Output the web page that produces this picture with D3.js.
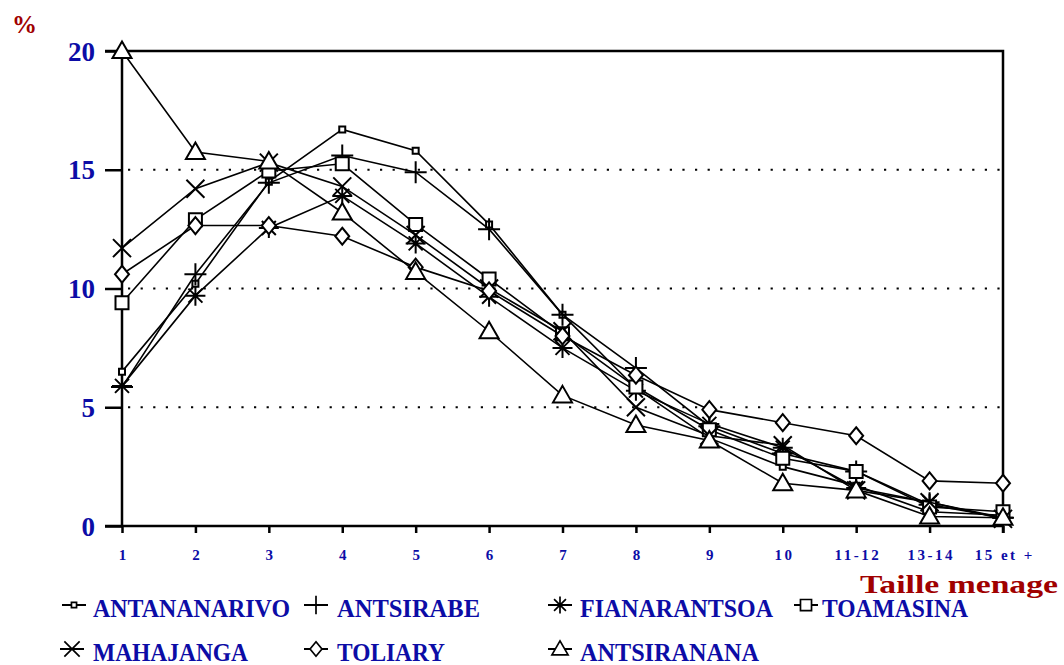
<!DOCTYPE html>
<html>
<head>
<meta charset="utf-8">
<script src="https://cdn.jsdelivr.net/npm/d3@7"></script>
<style>
  body { margin: 0; background: #fff; }
  svg { display: block; }
  text { font-family: "Liberation Serif", "DejaVu Serif", serif; font-weight: bold; }
</style>
</head>
<body>
<svg id="chart" width="1064" height="665"></svg>
<script>
// household size categories (x axis)
const categories = ["1", "2", "3", "4", "5", "6", "7", "8", "9", "10", "11-12", "13-14", "15 et +"];
const yTicks = [0, 5, 10, 15, 20];

// % of households per size, one array per town
const antananarivo = [6.5, 10.2, 14.5, 16.7, 15.8, 12.7, 8.9, 5.8, 3.7, 2.5, 1.7, 0.6, 0.45];
const antsirabe    = [5.85, 10.6, 14.45, 15.6, 14.9, 12.5, 8.9, 6.65, 4.2, 3.05, 2.3, 0.9, 0.35];
const fianarantsoa = [5.9, 9.7, 12.55, 13.9, 11.9, 9.65, 7.5, 5.7, 4.3, 3.3, 1.6, 1.0, 0.35];
const toamasina    = [9.4, 12.9, 14.95, 15.25, 12.7, 10.4, 8.1, 5.85, 4.05, 2.85, 2.3, 0.8, 0.6];
const mahajanga    = [11.7, 14.2, 15.3, 14.3, 12.25, 10.0, 8.2, 5.0, 3.8, 3.4, 1.5, 1.0, 0.3];
const toliary      = [10.6, 12.65, 12.65, 12.2, 10.9, 9.9, 8.0, 6.35, 4.9, 4.35, 3.8, 1.9, 1.8];
const antsiranana  = [20.0, 15.75, 15.35, 13.2, 10.7, 8.2, 5.5, 4.25, 3.6, 1.8, 1.5, 0.4, 0.35];

const seriesNames = ["ANTANANARIVO", "ANTSIRABE", "FIANARANTSOA", "TOAMASINA", "MAHAJANGA", "TOLIARY", "ANTSIRANANA"];
const seriesValues = [antananarivo, antsirabe, fianarantsoa, toamasina, mahajanga, toliary, antsiranana];
const seriesMarkers = ["smallsquare", "plus", "asterisk", "square", "cross", "diamond", "triangle"];

const blue = "#0c0ca6";
const red = "#a00000";

const svg = d3.select("#chart");

const x = d3.scalePoint().domain(categories).range([122, 1003]);
const y = d3.scaleLinear().domain([0, 20]).range([526, 51]);

// marker path drawn around 0,0
function markerPath(type) {
    const p = d3.path();
    if (type === "smallsquare") {
        p.rect(-3, -3, 6, 6);
    } else if (type === "square") {
        p.rect(-6.5, -6.5, 13, 13);
    } else if (type === "plus") {
        p.moveTo(-11, 0); p.lineTo(11, 0);
        p.moveTo(0, -11); p.lineTo(0, 11);
    } else if (type === "cross") {
        p.moveTo(-9, -9); p.lineTo(9, 9);
        p.moveTo(-9, 9); p.lineTo(9, -9);
    } else if (type === "asterisk") {
        p.moveTo(-10, 0); p.lineTo(10, 0);
        p.moveTo(0, -10); p.lineTo(0, 10);
        p.moveTo(-7, -7); p.lineTo(7, 7);
        p.moveTo(-7, 7); p.lineTo(7, -7);
    } else if (type === "diamond") {
        p.moveTo(0, -8.5); p.lineTo(7, 0); p.lineTo(0, 8.5); p.lineTo(-7, 0); p.closePath();
    } else if (type === "triangle") {
        p.moveTo(0, -9.5); p.lineTo(9.5, 7); p.lineTo(-9.5, 7); p.closePath();
    }
    return p.toString();
}

// dotted grid lines
svg.append("g")
    .selectAll("line")
    .data([5, 10, 15])
    .enter().append("line")
    .attr("x1", 128).attr("x2", 1000)
    .attr("y1", d => y(d)).attr("y2", d => y(d))
    .attr("stroke", "#000")
    .attr("stroke-width", 2.2)
    .attr("stroke-dasharray", "2.2,10.4");

// y axis
const yAxis = svg.append("g")
    .attr("transform", "translate(122,0)")
    .call(d3.axisLeft(y).tickValues(yTicks).tickSize(17).tickPadding(10));
yAxis.select(".domain").remove();
yAxis.selectAll(".tick line").attr("stroke", "#000").attr("stroke-width", 2.5);
yAxis.selectAll(".tick text")
    .attr("fill", blue)
    .attr("font-size", 27)
    .attr("font-family", "Liberation Serif, serif")
    .attr("font-weight", "bold")
    .attr("dy", "0.34em");

// x axis
const xAxis = svg.append("g")
    .attr("transform", "translate(0,526)")
    .call(d3.axisBottom(x).tickSize(7).tickPadding(16));
xAxis.select(".domain").remove();
xAxis.selectAll(".tick line").attr("stroke", "#000").attr("stroke-width", 2.5);
xAxis.selectAll(".tick text")
    .attr("fill", blue)
    .attr("font-size", 15)
    .attr("font-family", "Liberation Serif, serif")
    .attr("font-weight", "bold")
    .attr("letter-spacing", 2.5)
    .attr("dx", 1.25);

// frame
svg.append("path")
    .attr("d", `M105,${y(20)}H${x("15 et +")}V533 M${x("15 et +")},${y(0)}H105 M122,${y(20)}V${y(0)}`)
    .attr("fill", "none")
    .attr("stroke", "#000")
    .attr("stroke-width", 2.5);

// series: line then markers
const line = d3.line()
    .x((d, i) => x(categories[i]))
    .y(d => y(d));

seriesValues.forEach(function(vals, s) {
    svg.append("path")
        .datum(vals)
        .attr("d", line)
        .attr("fill", "none")
        .attr("stroke", "#000")
        .attr("stroke-width", 1.6);
    svg.append("g")
        .selectAll("path")
        .data(vals)
        .enter().append("path")
        .attr("transform", (d, i) => `translate(${x(categories[i])},${y(d)})`)
        .attr("d", markerPath(seriesMarkers[s]))
        .attr("fill", "#fff")
        .attr("stroke", "#000")
        .attr("stroke-width", 2);
});

// axis titles
svg.append("text")
    .attr("x", 12).attr("y", 33)
    .attr("fill", red)
    .attr("font-size", 25)
    .text("%");

svg.append("text")
    .attr("x", 860).attr("y", 593)
    .attr("fill", red)
    .attr("font-size", 25)
    .attr("textLength", 198)
    .attr("lengthAdjust", "spacingAndGlyphs")
    .text("Taille menage");

// legend
const legendPos = [
    {mx: 74, tx: 93, w: 197, row: 0},
    {mx: 316, tx: 337, w: 143, row: 0},
    {mx: 560, tx: 580, w: 193, row: 0},
    {mx: 806, tx: 822, w: 146, row: 0},
    {mx: 72, tx: 93, w: 155, row: 1},
    {mx: 316, tx: 337, w: 108, row: 1},
    {mx: 560, tx: 580, w: 179, row: 1}
];

const legend = svg.append("g")
    .selectAll("g")
    .data(seriesNames)
    .enter().append("g")
    .attr("transform", (d, i) => `translate(0,${legendPos[i].row === 0 ? 605 : 649})`);

legend.append("line")
    .attr("x1", (d, i) => legendPos[i].mx - 12)
    .attr("x2", (d, i) => legendPos[i].mx + 12)
    .attr("stroke", "#000")
    .attr("stroke-width", 2);

legend.append("path")
    .attr("transform", (d, i) => `translate(${legendPos[i].mx},0) scale(0.85)`)
    .attr("d", (d, i) => markerPath(seriesMarkers[i]))
    .attr("fill", "#fff")
    .attr("stroke", "#000")
    .attr("stroke-width", 2);

legend.append("text")
    .attr("x", (d, i) => legendPos[i].tx)
    .attr("y", 12)
    .attr("fill", blue)
    .attr("font-size", 25)
    .attr("textLength", (d, i) => legendPos[i].w)
    .attr("lengthAdjust", "spacingAndGlyphs")
    .text(d => d);
</script>
</body>
</html>
